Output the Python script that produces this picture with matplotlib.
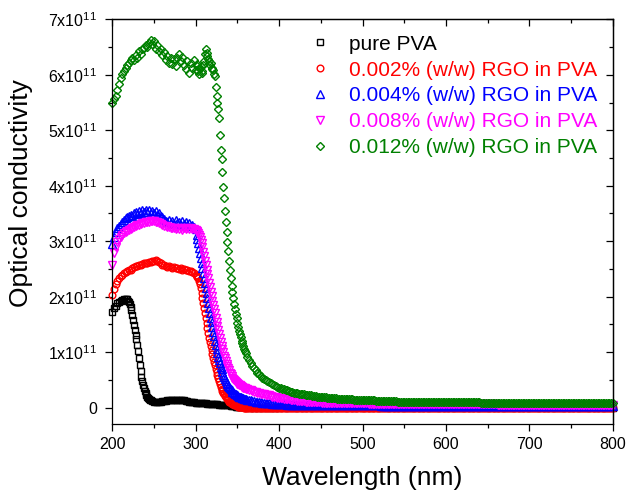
import numpy as np
import matplotlib
matplotlib.use("Agg")
import matplotlib.pyplot as plt
from matplotlib.ticker import MultipleLocator, FixedLocator, FixedFormatter

plt.rcParams['font.family'] = ['Liberation Sans', 'DejaVu Sans']
plt.rcParams['mathtext.fontset'] = 'custom'
plt.rcParams['mathtext.rm'] = 'Liberation Sans'
plt.rcParams['mathtext.it'] = 'Liberation Sans:italic'

# ---- wavelength sampling (nm) ----
wl_rgo = np.concatenate([
    np.arange(200, 301, 2),   # 51 pts
    np.arange(301, 361, 1),   # 60 pts (absorption edge)
    np.arange(362, 801, 2),   # 220 pts
])
wl_pva = np.concatenate([
    np.arange(200, 217, 2),   # 9
    np.arange(217, 247, 1),   # 30
    np.arange(248, 301, 2),   # 27
    np.arange(302, 361, 2),   # 30
    np.arange(365, 401, 5),   # 8
    np.arange(410, 801, 10),  # 40
])

# ---- optical conductivity, units of 1e11 s^-1 ----
pure_pva = [
    1.73, 1.79, 1.84, 1.88, 1.90, 1.92, 1.94, 1.95, 1.96,
    1.96, 1.95, 1.93, 1.90, 1.87, 1.82, 1.76, 1.67, 1.58, 1.49,
    1.40, 1.31, 1.23, 1.13, 1.03, 0.90, 0.77, 0.66, 0.56, 0.48,
    0.41, 0.35, 0.30, 0.26, 0.23, 0.20, 0.17, 0.15, 0.14, 0.13,
    0.12, 0.11, 0.11, 0.11, 0.11, 0.11, 0.12, 0.12, 0.12, 0.13,
    0.13, 0.13, 0.14, 0.14, 0.14, 0.14, 0.14, 0.13, 0.13, 0.13,
    0.12, 0.12, 0.11, 0.11, 0.10, 0.10, 0.09,
    0.09, 0.09, 0.09, 0.08, 0.08, 0.08, 0.07, 0.07, 0.07, 0.07,
    0.06, 0.06, 0.06, 0.05, 0.05, 0.05, 0.05, 0.04, 0.04, 0.04,
    0.03, 0.03, 0.03, 0.02, 0.02, 0.02, 0.01, 0.01, 0.01, 0.01,
    0.00, 0.00, 0.00, 0.00, 0.00, 0.00, 0.00, 0.00,
    0.00, 0.00, 0.00, 0.00, 0.00, 0.00, 0.00, 0.00, 0.00, 0.00,
    0.00, 0.00, 0.00, 0.00, 0.00, 0.00, 0.00, 0.00, 0.00, 0.00,
    0.00, 0.00, 0.00, 0.00, 0.00, 0.00, 0.00, 0.00, 0.00, 0.00,
    0.00, 0.00, 0.00, 0.00, 0.00, 0.00, 0.00, 0.00, 0.00, 0.00,
]

rgo_002 = [
    # 200-300 step 2
    2.03, 2.14, 2.22, 2.28, 2.33, 2.37, 2.40, 2.42, 2.44, 2.46,
    2.48, 2.49, 2.51, 2.53, 2.55, 2.56, 2.57, 2.58, 2.59, 2.60,
    2.61, 2.61, 2.62, 2.63, 2.64, 2.65, 2.66, 2.65, 2.63, 2.60,
    2.58, 2.57, 2.55, 2.54, 2.55, 2.53, 2.52, 2.53, 2.51, 2.52,
    2.50, 2.51, 2.49, 2.50, 2.48, 2.49, 2.47, 2.47, 2.45, 2.43,
    2.39,
    # 301-360 step 1
    2.38, 2.36, 2.33, 2.28, 2.22, 2.15, 2.07, 1.98, 1.89, 1.80,
    1.71, 1.61, 1.52, 1.43, 1.34, 1.26, 1.18, 1.11, 1.04, 0.97,
    0.90, 0.83, 0.76, 0.70, 0.64, 0.58, 0.53, 0.48, 0.43, 0.38,
    0.34, 0.30, 0.27, 0.24, 0.21, 0.19, 0.17, 0.15, 0.13, 0.11,
    0.10, 0.09, 0.08, 0.07, 0.06, 0.05, 0.04, 0.04, 0.03, 0.03,
    0.02, 0.02, 0.02, 0.01, 0.01, 0.01, 0.01, 0.00, 0.00, 0.00,
    # 362-800 step 2
    0.00, 0.00, 0.00, 0.00, 0.00, 0.00, 0.00, 0.00, 0.00, 0.00,
    0.00, 0.00, 0.00, 0.00, 0.00, 0.00, 0.00, 0.00, 0.00, 0.00,
    0.00, 0.00, 0.00, 0.00, 0.00, 0.00, 0.00, 0.00, 0.00, 0.00,
    0.00, 0.00, 0.00, 0.00, 0.00, 0.00, 0.00, 0.00, 0.00, 0.00,
    0.00, 0.00, 0.00, 0.00, 0.00, 0.00, 0.00, 0.00, 0.00, 0.00,
    0.00, 0.00, 0.00, 0.00, 0.00, 0.00, 0.00, 0.00, 0.00, 0.00,
    0.00, 0.00, 0.00, 0.00, 0.00, 0.00, 0.00, 0.00, 0.00, 0.00,
    0.00, 0.00, 0.00, 0.00, 0.00, 0.00, 0.00, 0.00, 0.00, 0.00,
    0.00, 0.00, 0.00, 0.00, 0.00, 0.00, 0.00, 0.00, 0.00, 0.00,
    0.00, 0.00, 0.00, 0.00, 0.00, 0.00, 0.00, 0.00, 0.00, 0.00,
    0.00, 0.00, 0.00, 0.00, 0.00, 0.00, 0.00, 0.00, 0.00, 0.00,
    0.00, 0.00, 0.00, 0.00, 0.00, 0.00, 0.00, 0.00, 0.00, 0.00,
    0.00, 0.00, 0.00, 0.00, 0.00, 0.00, 0.00, 0.00, 0.00, 0.00,
    0.00, 0.00, 0.00, 0.00, 0.00, 0.00, 0.00, 0.00, 0.00, 0.00,
    0.00, 0.00, 0.00, 0.00, 0.00, 0.00, 0.00, 0.00, 0.00, 0.00,
    0.00, 0.00, 0.00, 0.00, 0.00, 0.00, 0.00, 0.00, 0.00, 0.00,
    0.00, 0.00, 0.00, 0.00, 0.00, 0.00, 0.00, 0.00, 0.00, 0.00,
    0.00, 0.00, 0.00, 0.00, 0.00, 0.00, 0.00, 0.00, 0.00, 0.00,
    0.00, 0.00, 0.00, 0.00, 0.00, 0.00, 0.00, 0.00, 0.00, 0.00,
    0.00, 0.00, 0.00, 0.00, 0.00, 0.00, 0.00, 0.00, 0.00, 0.00,
    0.00, 0.00, 0.00, 0.00, 0.00, 0.00, 0.00, 0.00, 0.00, 0.00,
    0.00, 0.00, 0.00, 0.00, 0.00, 0.00, 0.00, 0.00, 0.00, 0.00,
]

rgo_004 = [
    # 200-300 step 2
    2.95, 3.08, 3.17, 3.23, 3.28, 3.31, 3.35, 3.38, 3.41, 3.43,
    3.45, 3.48, 3.46, 3.50, 3.52, 3.49, 3.54, 3.51, 3.56, 3.52,
    3.57, 3.53, 3.56, 3.51, 3.55, 3.50, 3.54, 3.48, 3.51, 3.45,
    3.43, 3.40, 3.37, 3.35, 3.39, 3.33, 3.36, 3.31, 3.38, 3.32,
    3.35, 3.30, 3.37, 3.31, 3.34, 3.29, 3.33, 3.28, 3.30, 3.26,
    3.22,
    # 301-360 step 1
    3.12, 3.04, 2.96, 2.87, 2.78, 2.69, 2.60, 2.51, 2.42, 2.33,
    2.24, 2.15, 2.06, 1.97, 1.88, 1.79, 1.70, 1.62, 1.54, 1.45,
    1.37, 1.29, 1.21, 1.13, 1.06, 0.99, 0.92, 0.86, 0.80, 0.74,
    0.69, 0.64, 0.59, 0.55, 0.51, 0.48, 0.45, 0.42, 0.39, 0.37,
    0.35, 0.33, 0.31, 0.29, 0.28, 0.26, 0.25, 0.24, 0.23, 0.22,
    0.21, 0.20, 0.20, 0.19, 0.18, 0.18, 0.17, 0.16, 0.16, 0.15,
    # 362-800 step 2
    0.14, 0.13, 0.13, 0.12, 0.12, 0.11, 0.11, 0.10, 0.10, 0.09,
    0.09, 0.09, 0.08, 0.08, 0.08, 0.07, 0.07, 0.07, 0.07, 0.06,
    0.06, 0.06, 0.06, 0.06, 0.055, 0.055, 0.055, 0.05, 0.05, 0.05,
    0.05, 0.05, 0.05, 0.05, 0.05, 0.05, 0.05, 0.05, 0.05, 0.05,
    0.045, 0.045, 0.045, 0.045, 0.045, 0.045, 0.045, 0.045, 0.045, 0.045,
    0.04, 0.04, 0.04, 0.04, 0.04, 0.04, 0.04, 0.04, 0.04, 0.04,
    0.04, 0.04, 0.04, 0.04, 0.04, 0.04, 0.04, 0.04, 0.04, 0.04,
    0.04, 0.04, 0.04, 0.04, 0.04, 0.04, 0.04, 0.04, 0.04, 0.04,
    0.035, 0.035, 0.035, 0.035, 0.035, 0.035, 0.035, 0.035, 0.035, 0.035,
    0.035, 0.035, 0.035, 0.035, 0.035, 0.035, 0.035, 0.035, 0.035, 0.035,
    0.035, 0.035, 0.035, 0.035, 0.035, 0.035, 0.035, 0.035, 0.035, 0.035,
    0.035, 0.035, 0.035, 0.035, 0.035, 0.035, 0.035, 0.035, 0.035, 0.035,
    0.035, 0.035, 0.035, 0.035, 0.035, 0.035, 0.035, 0.035, 0.035, 0.035,
    0.035, 0.035, 0.035, 0.035, 0.035, 0.035, 0.035, 0.035, 0.035, 0.035,
    0.035, 0.035, 0.035, 0.035, 0.035, 0.035, 0.035, 0.035, 0.035, 0.035,
    0.035, 0.035, 0.035, 0.035, 0.035, 0.035, 0.035, 0.035, 0.035, 0.035,
    0.035, 0.035, 0.035, 0.035, 0.035, 0.035, 0.035, 0.035, 0.035, 0.035,
    0.035, 0.035, 0.035, 0.035, 0.035, 0.035, 0.035, 0.035, 0.035, 0.035,
    0.035, 0.035, 0.035, 0.035, 0.035, 0.035, 0.035, 0.035, 0.035, 0.035,
    0.035, 0.035, 0.035, 0.035, 0.035, 0.035, 0.035, 0.035, 0.035, 0.035,
    0.035, 0.035, 0.035, 0.035, 0.035, 0.035, 0.035, 0.035, 0.035, 0.035,
    0.035, 0.035, 0.035, 0.035, 0.035, 0.035, 0.035, 0.035, 0.035, 0.035,
]

rgo_008 = [
    # 200-300 step 2
    2.58, 2.78, 2.90, 2.98, 3.04, 3.08, 3.11, 3.14, 3.17, 3.19,
    3.21, 3.22, 3.24, 3.26, 3.27, 3.29, 3.30, 3.31, 3.33, 3.33,
    3.34, 3.35, 3.35, 3.36, 3.36, 3.36, 3.35, 3.34, 3.33, 3.31,
    3.30, 3.28, 3.27, 3.26, 3.25, 3.24, 3.23, 3.24, 3.22, 3.23,
    3.22, 3.23, 3.21, 3.23, 3.22, 3.23, 3.22, 3.23, 3.22, 3.22,
    3.21,
    # 301-360 step 1
    3.19, 3.17, 3.15, 3.12, 3.08, 3.03, 2.96, 2.89, 2.81, 2.73,
    2.65, 2.57, 2.49, 2.41, 2.33, 2.25, 2.17, 2.09, 2.01, 1.93,
    1.85, 1.78, 1.70, 1.62, 1.55, 1.47, 1.40, 1.33, 1.26, 1.19,
    1.12, 1.06, 1.00, 0.94, 0.89, 0.84, 0.79, 0.75, 0.71, 0.67,
    0.63, 0.60, 0.57, 0.54, 0.52, 0.50, 0.48, 0.46, 0.44, 0.43,
    0.42, 0.41, 0.40, 0.39, 0.38, 0.37, 0.36, 0.35, 0.35, 0.34,
    # 362-800 step 2
    0.33, 0.32, 0.31, 0.30, 0.29, 0.28, 0.27, 0.26, 0.25, 0.25,
    0.24, 0.23, 0.22, 0.22, 0.21, 0.20, 0.20, 0.19, 0.18, 0.18,
    0.17, 0.17, 0.16, 0.16, 0.15, 0.15, 0.14, 0.14, 0.13, 0.13,
    0.125, 0.12, 0.12, 0.115, 0.115, 0.11, 0.11, 0.105, 0.105, 0.10,
    0.10, 0.10, 0.095, 0.095, 0.095, 0.09, 0.09, 0.09, 0.09, 0.085,
    0.085, 0.085, 0.085, 0.085, 0.08, 0.08, 0.08, 0.08, 0.08, 0.08,
    0.08, 0.075, 0.075, 0.075, 0.075, 0.075, 0.075, 0.075, 0.075, 0.075,
    0.075, 0.075, 0.075, 0.07, 0.07, 0.07, 0.07, 0.07, 0.07, 0.07,
    0.07, 0.07, 0.07, 0.07, 0.07, 0.07, 0.07, 0.07, 0.07, 0.07,
    0.065, 0.065, 0.065, 0.065, 0.065, 0.065, 0.065, 0.065, 0.065, 0.065,
    0.065, 0.065, 0.065, 0.065, 0.065, 0.065, 0.065, 0.065, 0.065, 0.065,
    0.06, 0.06, 0.06, 0.06, 0.06, 0.06, 0.06, 0.06, 0.06, 0.06,
    0.06, 0.06, 0.06, 0.06, 0.06, 0.06, 0.06, 0.06, 0.06, 0.06,
    0.06, 0.06, 0.06, 0.06, 0.06, 0.06, 0.06, 0.06, 0.06, 0.06,
    0.06, 0.06, 0.06, 0.06, 0.06, 0.06, 0.06, 0.06, 0.06, 0.06,
    0.055, 0.055, 0.055, 0.055, 0.055, 0.055, 0.055, 0.055, 0.055, 0.055,
    0.055, 0.055, 0.055, 0.055, 0.055, 0.055, 0.055, 0.055, 0.055, 0.055,
    0.055, 0.055, 0.055, 0.055, 0.055, 0.055, 0.055, 0.055, 0.055, 0.055,
    0.055, 0.055, 0.055, 0.055, 0.055, 0.055, 0.055, 0.055, 0.055, 0.055,
    0.055, 0.055, 0.055, 0.055, 0.055, 0.055, 0.055, 0.055, 0.055, 0.055,
    0.055, 0.055, 0.055, 0.055, 0.055, 0.055, 0.055, 0.055, 0.055, 0.055,
    0.055, 0.055, 0.055, 0.055, 0.055, 0.055, 0.055, 0.055, 0.055, 0.055,
]

rgo_012 = [
    # 200-300 step 2
    5.50, 5.56, 5.62, 5.72, 5.84, 5.94, 6.01, 6.06, 6.12, 6.18,
    6.22, 6.26, 6.30, 6.27, 6.36, 6.31, 6.42, 6.37, 6.46, 6.49,
    6.53, 6.50, 6.58, 6.63, 6.55, 6.61, 6.47, 6.53, 6.42, 6.47,
    6.35, 6.41, 6.27, 6.33, 6.21, 6.31, 6.19, 6.28, 6.15, 6.31,
    6.37, 6.24, 6.32, 6.17, 6.10, 6.24, 6.04, 6.21, 6.12, 6.26,
    6.08,
    # 301-360 step 1
    6.15, 6.19, 6.06, 6.01, 6.12, 6.15, 6.04, 6.07, 6.18, 6.25,
    6.38, 6.47, 6.40, 6.33, 6.28, 6.25, 6.18, 6.22, 6.13, 6.10,
    6.08, 6.02, 5.97, 5.78, 5.62, 5.50, 5.38, 5.22, 4.91, 4.64,
    4.48, 4.25, 3.98, 3.77, 3.55, 3.35, 3.17, 2.99, 2.83, 2.65,
    2.49, 2.34, 2.20, 2.08, 1.97, 1.87, 1.78, 1.69, 1.61, 1.53,
    1.46, 1.39, 1.33, 1.27, 1.21, 1.16, 1.11, 1.06, 1.02, 0.98,
    # 362-800 step 2
    0.91, 0.85, 0.80, 0.75, 0.71, 0.67, 0.63, 0.60, 0.57, 0.54,
    0.52, 0.50, 0.48, 0.46, 0.44, 0.42, 0.41, 0.39, 0.38, 0.36,
    0.35, 0.34, 0.33, 0.32, 0.31, 0.30, 0.29, 0.28, 0.27, 0.265,
    0.26, 0.255, 0.25, 0.245, 0.24, 0.235, 0.23, 0.225, 0.22, 0.215,
    0.21, 0.205, 0.20, 0.20, 0.195, 0.19, 0.19, 0.185, 0.18, 0.18,
    0.175, 0.175, 0.17, 0.17, 0.165, 0.165, 0.16, 0.16, 0.16, 0.155,
    0.155, 0.15, 0.15, 0.15, 0.145, 0.145, 0.145, 0.14, 0.14, 0.14,
    0.135, 0.135, 0.135, 0.13, 0.13, 0.13, 0.13, 0.125, 0.125, 0.125,
    0.125, 0.12, 0.12, 0.12, 0.12, 0.115, 0.115, 0.115, 0.115, 0.115,
    0.11, 0.11, 0.11, 0.11, 0.11, 0.11, 0.11, 0.11, 0.11, 0.11,
    0.105, 0.105, 0.105, 0.105, 0.105, 0.105, 0.105, 0.105, 0.105, 0.105,
    0.10, 0.10, 0.10, 0.10, 0.10, 0.10, 0.10, 0.10, 0.10, 0.10,
    0.095, 0.095, 0.095, 0.095, 0.095, 0.095, 0.095, 0.095, 0.095, 0.095,
    0.095, 0.095, 0.095, 0.095, 0.095, 0.095, 0.095, 0.095, 0.095, 0.095,
    0.09, 0.09, 0.09, 0.09, 0.09, 0.09, 0.09, 0.09, 0.09, 0.09,
    0.09, 0.09, 0.09, 0.09, 0.09, 0.09, 0.09, 0.09, 0.09, 0.09,
    0.085, 0.085, 0.085, 0.085, 0.085, 0.085, 0.085, 0.085, 0.085, 0.085,
    0.085, 0.085, 0.085, 0.085, 0.085, 0.085, 0.085, 0.085, 0.085, 0.085,
    0.08, 0.08, 0.08, 0.08, 0.08, 0.08, 0.08, 0.08, 0.08, 0.08,
    0.08, 0.08, 0.08, 0.08, 0.08, 0.08, 0.08, 0.08, 0.08, 0.08,
    0.075, 0.075, 0.075, 0.075, 0.075, 0.075, 0.075, 0.075, 0.075, 0.075,
    0.075, 0.075, 0.075, 0.075, 0.075, 0.075, 0.075, 0.075, 0.075, 0.075,
]

labels = ["pure PVA",
          "0.002% (w/w) RGO in PVA",
          "0.004% (w/w) RGO in PVA",
          "0.008% (w/w) RGO in PVA",
          "0.012% (w/w) RGO in PVA"]
colors = ["#000000", "#FF0000", "#0000FF", "#FF00FF", "#008000"]
markers = ["s", "o", "^", "v", "D"]
msizes = [4.4, 4.8, 5.2, 5.2, 3.9]

series = [(wl_pva, pure_pva), (wl_rgo, rgo_002), (wl_rgo, rgo_004),
          (wl_rgo, rgo_008), (wl_rgo, rgo_012)]
for wl, vals in series:
    assert len(wl) == len(vals), (len(wl), len(vals))

fig = plt.figure(figsize=(6.28, 4.94), dpi=100)
ax = fig.add_axes([112.3 / 628, 1 - 424.3 / 494, 500.4 / 628, 405 / 494])

for (wl, vals), lab, c, m, ms in zip(series, labels, colors, markers, msizes):
    ax.plot(wl, np.asarray(vals) * 1e11, linestyle="none", marker=m,
            markersize=ms, markerfacecolor="none", markeredgecolor=c,
            markeredgewidth=1.0, color=c, label=lab, clip_on=False)

ax.set_xlim(200, 800)
ax.set_ylim(-0.3e11, 7e11)

ax.xaxis.set_major_locator(MultipleLocator(100))
ax.xaxis.set_minor_locator(MultipleLocator(50))
yt = np.arange(0, 8) * 1e11
ax.yaxis.set_major_locator(FixedLocator(yt))
ax.yaxis.set_major_formatter(FixedFormatter(
    ["0"] + [r"$\mathregular{%dx10^{11}}$" % k for k in range(1, 8)]))
ax.yaxis.set_minor_locator(FixedLocator(np.arange(0.5, 7, 1) * 1e11))

for s in ax.spines.values():
    s.set_linewidth(0.9)
ax.tick_params(which="both", direction="out", width=0.9, labelsize=11.5,
               top=False, right=False)
ax.tick_params(which="major", length=5)
ax.tick_params(which="minor", length=3)
ax.tick_params(axis="y", pad=6)
ax.tick_params(axis="x", pad=4.5)

# mirrored inward ticks on the top and right spines
ax_top = ax.secondary_xaxis("top")
ax_top.xaxis.set_major_locator(MultipleLocator(100))
ax_top.xaxis.set_minor_locator(MultipleLocator(50))
ax_top.tick_params(which="both", direction="in", width=0.9, labeltop=False)
ax_top.tick_params(which="major", length=5)
ax_top.tick_params(which="minor", length=3)
ax_right = ax.secondary_yaxis("right")
ax_right.yaxis.set_major_locator(FixedLocator(yt))
ax_right.yaxis.set_minor_locator(FixedLocator(np.arange(0.5, 7, 1) * 1e11))
ax_right.tick_params(which="both", direction="in", width=0.9, labelright=False)
ax_right.tick_params(which="major", length=5)
ax_right.tick_params(which="minor", length=3)
for sec in (ax_top, ax_right):
    for s in sec.spines.values():
        s.set_linewidth(0.9)

ax.set_xlabel("Wavelength (nm)", fontsize=19, labelpad=10)
ax.set_ylabel("Optical conductivity", fontsize=19)
ax.yaxis.set_label_coords(-0.158, 0.57)

leg = ax.legend(loc="upper left", bbox_to_anchor=(309.5 / 628, 1 - 34.7 / 494),
                bbox_transform=fig.transFigure, frameon=False, fontsize=15,
                handlelength=1.0, handletextpad=0.88, labelspacing=0.33,
                borderpad=0, borderaxespad=0, markerscale=1.0)
for t, c in zip(leg.get_texts(), colors):
    t.set_color(c)

fig.savefig("out.png", dpi=100, facecolor="white")
